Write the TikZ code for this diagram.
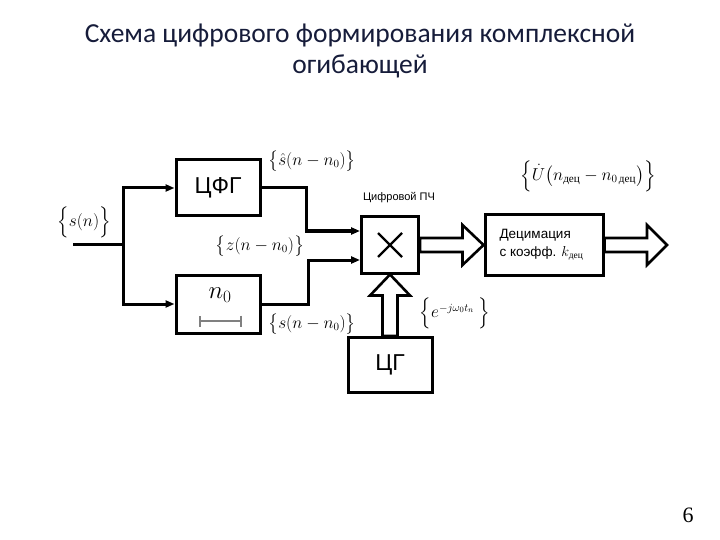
\documentclass[tikz,border=0pt]{standalone}
\usepackage{amsmath}
\usepackage{fontspec}
\setmainfont{Liberation Sans}
\newfontfamily\titlefont{Carlito}
\newfontfamily\cyrs{Liberation Serif}
\usetikzlibrary{arrows.meta,calc}
\definecolor{titlecol}{RGB}{22,28,58}

\tikzset{
  blk/.style={draw, line width=3pt, inner sep=0pt, font=\fontsize{23}{25}\selectfont},
  sig/.style={inner sep=0pt, font=\fontsize{16}{18}\selectfont},
  wire/.style={line width=3pt},
  hollow/.style={draw, line width=2.6pt, line join=miter, fill=white},
  ttl/.style={text=titlecol, font=\titlefont\fontsize{27.5}{30}\selectfont}
}

\begin{document}
\begin{tikzpicture}[x=1pt,y=-1pt,>={Triangle[length=9pt,width=7pt]}]
    \useasboundingbox (0,0) rectangle (720,540);

    \node[ttl] (t1) at (360,35) {Схема цифрового формирования комплексной};
    \node[ttl] (t2) at (360,66) {огибающей};
    \node[font=\cyrs\fontsize{22}{24}\selectfont] (pg) at (688,515) {6};

    \node[blk, minimum width=84pt, minimum height=56pt]  (cfg) at (218,188) {ЦФГ};
    \node[blk, minimum width=84pt, minimum height=58pt]  (dly) at (218,304) {};
    \node[blk, minimum width=57pt, minimum height=56pt]  (mul) at (390,245) {};
    \node[blk, minimum width=118pt, minimum height=60pt] (dec) at (544,245) {};
    \node[blk, minimum width=84pt, minimum height=55pt]  (cg)  at (390,365) {ЦГ};

    \node[font=\fontsize{24}{26}\selectfont] (n0) at (220,295) {$n_0$};
    \draw[gray, line width=1.8pt, {Bar[width=11pt]}-{Bar[width=11pt]}] (199,321) -- (242,321);

    \draw[line width=2.2pt] (mul.center) ++(-12,-12) -- ++(24,24);
    \draw[line width=2.2pt] (mul.center) ++(12,-12) -- ++(-24,24);

    \node[anchor=west, align=left, font=\fontsize{13.5}{18}\selectfont] (dtx) at (496,245)
      {Децимация\\с коэфф. $k_{\text{\cyrs дец}}$};

    \node[sig] (lsh) at (312,161) {$\big\{\hat s(n-n_0)\big\}$};
    \node[sig] (ls)  at (84,222)  {$\Big\{s(n)\Big\}$};
    \node[sig] (lz)  at (260,246) {$\big\{z(n-n_0)\big\}$};
    \node[sig] (lsd) at (312,324) {$\big\{s(n-n_0)\big\}$};
    \node[sig] (le)  at (455,313) {$\Big\{e^{-j\omega_0 t_n}\ \Big\}$};
    \node[sig] (lu)  at (588,176) {$\Big\{\dot U\big(n_{\text{\cyrs дец}}-n_{0\,\text{\cyrs дец}}\big)\Big\}$};
    \node[font=\fontsize{11}{13}\selectfont] (lpc) at (399,198) {Цифровой ПЧ};

    \coordinate (src) at (73,244);
    \coordinate (br)  at (123,244);
    \coordinate (in1) at ([yshift=14pt]mul.west);
    \coordinate (in2) at ([yshift=-15pt]mul.west);
    \coordinate (out) at (667,245);

    \draw[wire] (src) -- (br);
    \draw[wire,->] (br) |- (cfg.west);
    \draw[wire,->] (br) |- (dly.west);
    \draw[wire,->] (cfg.east) -- ++(45,0) |- (in1);
    \draw[wire,->] (dly.east) -- ++(47,0) |- (in2);

    \draw[hollow] (mul.east) ++(0,-7) -- ($(dec.west)+(-21,-7)$) -- ++(0,-13) -- (dec.west)
      -- ++(-21,20) -- ++(0,-13) -- ($(mul.east)+(0,7)$) -- cycle;
    \draw[hollow] (dec.east) ++(0,-7) -- ($(out)+(-20,-7)$) -- ++(0,-13) -- (out)
      -- ++(-20,20) -- ++(0,-13) -- ($(dec.east)+(0,7)$) -- cycle;
    \draw[hollow] (cg.north) ++(-7.5,0) -- ($(mul.south)+(-7.5,21)$) -- ++(-12.5,0) -- (mul.south)
      -- ++(20,21) -- ++(-12.5,0) -- ($(cg.north)+(7.5,0)$) -- cycle;
  \end{tikzpicture}
\end{document}
